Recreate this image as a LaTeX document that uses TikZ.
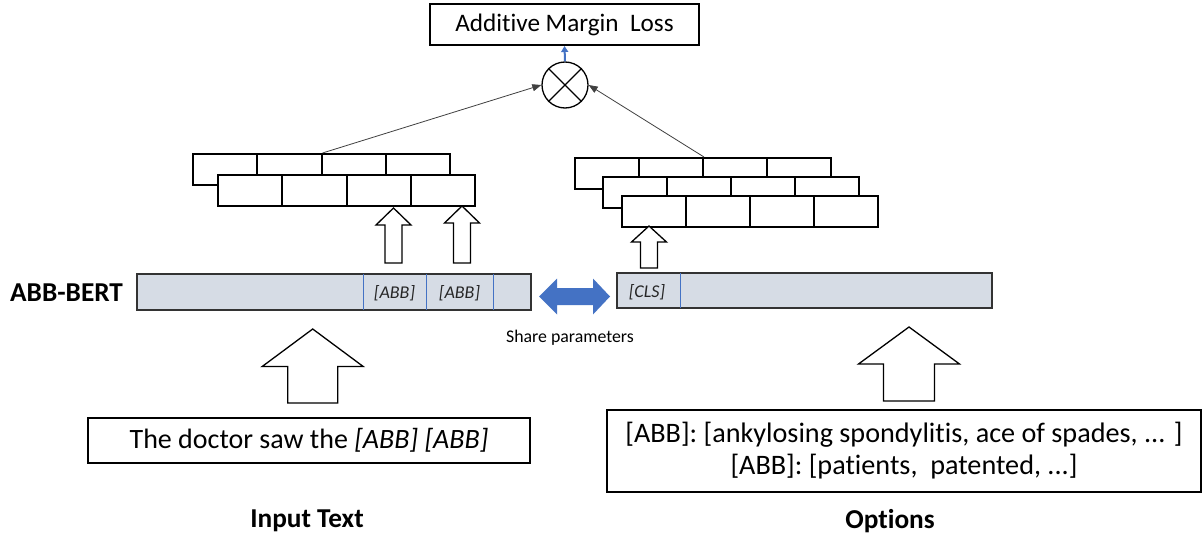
\documentclass[tikz,border=0pt]{standalone}
\usepackage{fontspec}
\setmainfont{Carlito}[Ligatures=NoCommon]
\usetikzlibrary{arrows.meta,calc}
\definecolor{offblue}{HTML}{4472C4}
\definecolor{barfill}{HTML}{D6DCE5}
\newcommand{\fs}[2]{\fontsize{#1}{#2}\selectfont}
\newcommand{\uparrowshape}[6]{%
  \draw[blockarrow] (#1,#2) -- (#1+#5,#3) -- (#1+#6,#3) -- (#1+#6,#4) -- (#1-#6,#4) -- (#1-#6,#3) -- (#1-#5,#3) -- cycle;}
\tikzset{
  brick/.style={draw=black, line width=2pt, fill=white, inner sep=0pt, minimum height=31pt, anchor=north west},
  bar/.style={draw=black!80, line width=1.5pt, fill=barfill, inner sep=0pt},
  divider/.style={draw=offblue, line width=0.6pt},
  blockarrow/.style={draw=black, line width=1.3pt, fill=white, line join=miter},
  textbox/.style={draw=black, line width=1.3pt, inner sep=0pt, align=center},
  conn/.style={draw=black!75, line width=0.8pt, -{Triangle[length=9pt,width=7pt]}},
  bartext/.style={font=\fs{18}{22}\itshape, text=black!85, inner sep=0pt},
  boldlabel/.style={font=\fs{27.3}{32}\bfseries, inner sep=0pt},
}
\begin{document}
\begin{tikzpicture}[x=1pt,y=-1pt]
\path[use as bounding box, fill=white] (0,0) rectangle (1203,538);

% loss box and combiner
\node[textbox, line width=2pt, minimum width=269pt, minimum height=41pt, font=\fs{25.2}{30}] (loss) at (564.5,24.5) {Additive Margin\ \ Loss};
\node[draw=black, line width=1.3pt, circle, minimum size=46pt, inner sep=0pt] (comb) at (565,85) {};
\draw[line width=1.3pt] (comb.45) -- (comb.225) (comb.135) -- (comb.315);
\draw[offblue, line width=2pt, -{Triangle[length=6pt,width=7pt]}] (comb.north) -- (loss.south);

% left brick stack
\foreach \i in {0,1,2,3} {
  \node[brick, minimum width=64.25pt] (LA\i) at (192+\i*64.25,153) {};
}
\foreach \i in {0,1,2,3} {
  \node[brick, minimum width=64.25pt] (LB\i) at (217+\i*64.25,174) {};
}
% right brick stack
\foreach \i in {0,1,2,3} {
  \node[brick, minimum width=64pt] (RA\i) at (574+\i*64,157) {};
}
\foreach \i in {0,1,2,3} {
  \node[brick, minimum width=64pt] (RB\i) at (602+\i*64,176) {};
}
\foreach \i in {0,1,2,3} {
  \node[brick, minimum width=64pt] (RC\i) at (621+\i*64,195) {};
}

% connectors to combiner
\draw[conn] (LA1.north east) -- (comb.west);
\draw[conn] (RA1.north east) -- (comb.east);

% small block arrows
\uparrowshape{393.5}{208}{225}{263}{17.5}{8.5}
\uparrowshape{462}{206}{223}{263}{17.5}{8.5}
\uparrowshape{649}{226}{242}{268}{17.5}{8.5}

% bars
\node[bar, minimum width=394pt, minimum height=36pt] (lbar) at (334,292) {};
\draw[divider] (363,292) ++(0,-18) -- ++(0,36);
\draw[divider] (426,292) ++(0,-18) -- ++(0,36);
\draw[divider] (493,292) ++(0,-18) -- ++(0,36);
\node[bartext] (abb1) at (394.5,293) {[ABB]};
\node[bartext] (abb2) at (459.5,293) {[ABB]};

\node[bar, minimum width=375pt, minimum height=35pt] (rbar) at (804.5,290.5) {};
\draw[divider] (680,273) -- (680,308);
\node[bartext] (cls) at (647,292) {[CLS]};

\node[boldlabel, anchor=west] (abbbert) at (10,293) {ABB-BERT};

% shared parameters double arrow
\fill[offblue] (539,296.5) -- (557,278.5) -- (557,288) -- (593,288) -- (593,278.5) -- (610,296.5) -- (593,314.5) -- (593,305) -- (557,305) -- (557,314.5) -- cycle;
\node[font=\fs{17.8}{21}, inner sep=0pt] (share) at (570,338) {Share parameters};

% big block arrows
\uparrowshape{312.7}{329}{366.5}{403}{50.5}{25}
\uparrowshape{909}{327}{364}{401}{50.5}{25.5}

% input boxes
\node[textbox, minimum width=442pt, minimum height=45pt, font=\fs{28}{33}] (input) at (309,440.5) {The doctor saw the \textit{[ABB] [ABB]}};
\node[textbox, minimum width=594pt, minimum height=82pt, font=\fs{28.2}{32}] (opts) at (904,451) {[ABB]: [ankylosing spondylitis, ace of spades, ... ]\\\relax [ABB]: [patients,\ \ patented, ...]};

\node[boldlabel] (inlabel) at (307,521) {Input Text};
\node[boldlabel] (optlabel) at (890,521) {Options};
\end{tikzpicture}
\end{document}
